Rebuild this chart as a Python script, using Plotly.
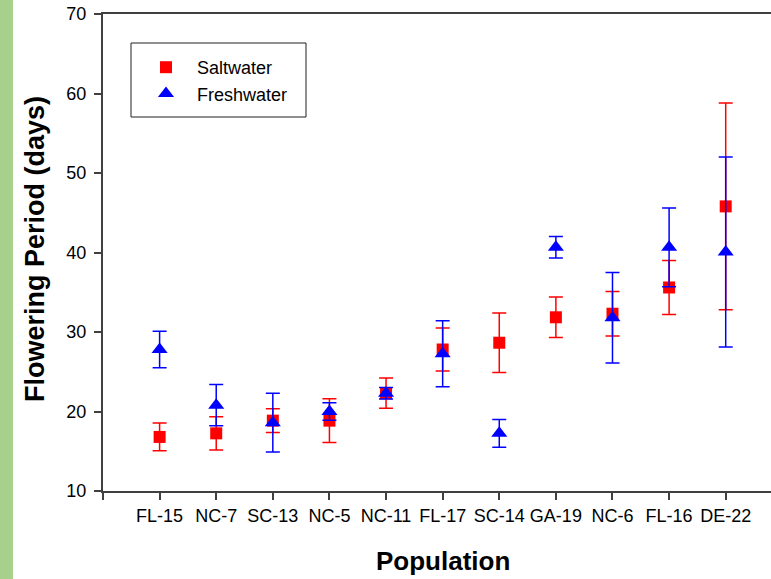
import plotly.graph_objects as go

categories = ["FL-15", "NC-7", "SC-13", "NC-5", "NC-11", "FL-17", "SC-14", "GA-19", "NC-6", "FL-16", "DE-22"]
salt_mean = [16.8, 17.25, 18.85, 18.85, 22.3, 27.8, 28.65, 31.85, 32.3, 35.6, 45.8]
salt_err = [1.75, 2.1, 1.5, 2.75, 1.9, 2.7, 3.75, 2.55, 2.8, 3.4, 13.0]
fresh_mean = [27.8, 20.8, 18.6, 20.0, 22.3, 27.25, 17.25, 40.65, 31.8, 40.65, 40.05]
fresh_err = [2.3, 2.6, 3.7, 1.1, 0.72, 4.15, 1.75, 1.35, 5.7, 4.95, 11.95]
y_ticks = [10, 20, 30, 40, 50, 60, 70]

W, H = 771, 579
ML, MR, MT, MB = 103, 0, 14, 88
pw, ph = W - ML - MR, H - MT - MB

def px(xpix):
    return (xpix - ML) / pw

def py(ypix):
    return (H - MB - ypix) / ph

FONT = "Arial, Liberation Sans, sans-serif"
xpos = list(range(len(categories)))

fig = go.Figure()
fig.add_trace(go.Scatter(
    x=xpos, y=salt_mean, mode="markers", name="Saltwater",
    marker=dict(symbol="square", size=12, color="#ff0000"),
    error_y=dict(type="data", array=salt_err, visible=True, color="#ff0000", thickness=1.5, width=7),
))
fig.add_trace(go.Scatter(
    x=xpos, y=fresh_mean, mode="markers", name="Freshwater",
    marker=dict(symbol="triangle-up", size=14, color="#0000ff"),
    error_y=dict(type="data", array=fresh_err, visible=True, color="#0000ff", thickness=1.5, width=7),
))

axis_col = "#404040"
fig.update_layout(
    width=W, height=H,
    margin=dict(l=ML, r=MR, t=MT, b=MB),
    paper_bgcolor="white", plot_bgcolor="white",
    font=dict(family=FONT, size=18, color="black"),
    xaxis=dict(
        range=[-1, 10.8], tickvals=[-1] + xpos, ticktext=[""] + categories,
        showgrid=False, zeroline=False, showline=True, linecolor=axis_col, linewidth=2,
        mirror=True, ticks="outside", ticklen=7, tickwidth=1.5, tickcolor=axis_col,
        tickfont=dict(size=18, family=FONT),
    ),
    yaxis=dict(
        range=[10, 70], tickvals=y_ticks,
        showgrid=False, zeroline=False, showline=True, linecolor=axis_col, linewidth=2,
        ticks="outside", ticklen=7, tickwidth=1.5, tickcolor=axis_col,
        tickfont=dict(size=18, family=FONT), ticklabelstandoff=4,
    ),
    showlegend=True,
    legend=dict(
        x=px(135), y=py(49), xanchor="left", yanchor="top",
        borderwidth=0, bgcolor="rgba(0,0,0,0)",
        font=dict(size=18, family=FONT), itemwidth=52,
        tracegroupgap=0,
    ),
    annotations=[
        dict(text="<b>Flowering Period (days)</b>", textangle=-90, xref="paper", yref="paper",
             x=px(35), y=py(249), xanchor="center", yanchor="middle", showarrow=False,
             font=dict(size=27, family=FONT)),
        dict(text="<b>Population</b>", xref="paper", yref="paper",
             x=px(443), y=py(561), xanchor="center", yanchor="middle", showarrow=False,
             font=dict(size=26, family=FONT)),
    ],
    shapes=[
        dict(type="rect", xref="paper", yref="paper", x0=px(0), x1=px(13), y0=py(579), y1=py(0),
             fillcolor="#a8d08d", line=dict(width=0), layer="below"),
        dict(type="rect", xref="paper", yref="paper", x0=px(131), x1=px(306), y0=py(117), y1=py(43),
             fillcolor="white", line=dict(width=1, color="#202020"), layer="below"),
    ],
)

fig.write_html("out.html")
